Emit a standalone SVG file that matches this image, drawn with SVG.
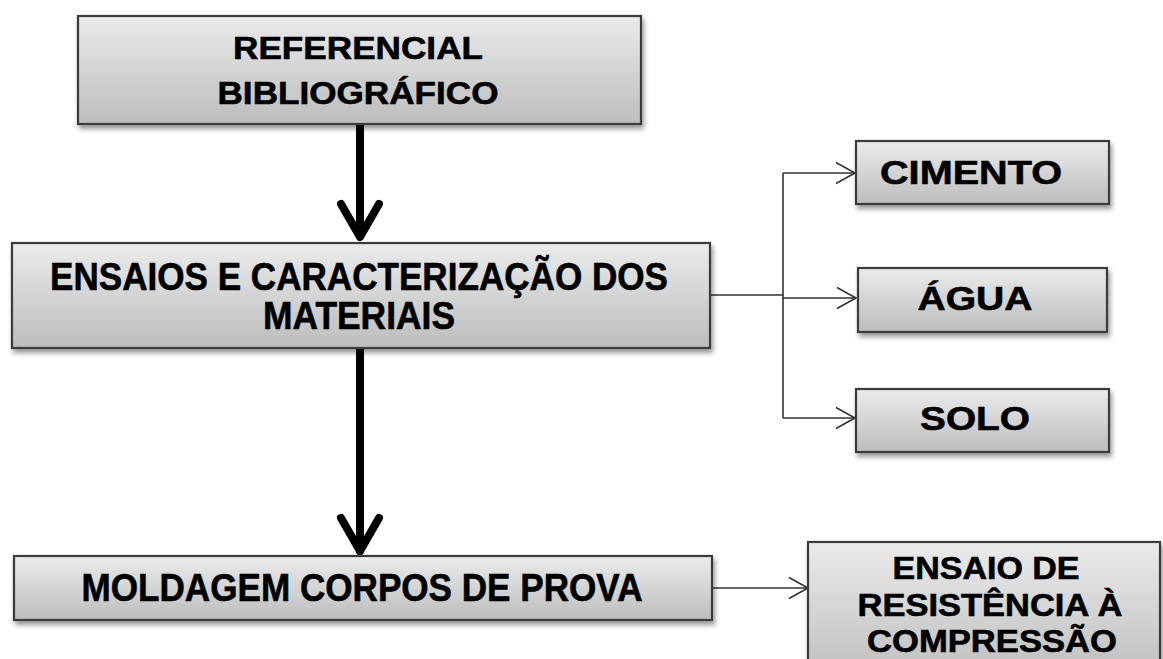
<svg xmlns="http://www.w3.org/2000/svg" width="1163" height="659" viewBox="0 0 1163 659">
<defs>
<linearGradient id="g" x1="0" y1="0" x2="0" y2="1">
<stop offset="0" stop-color="#ebebeb"/>
<stop offset="1" stop-color="#bdbdbd"/>
</linearGradient>
<filter id="sh" x="-10%" y="-10%" width="120%" height="130%">
<feDropShadow dx="2" dy="4" stdDeviation="2.5" flood-color="#000" flood-opacity="0.4"/>
</filter>
<marker id="open" markerWidth="24" markerHeight="24" viewBox="0 0 24 24" refX="22" refY="12" orient="auto" markerUnits="userSpaceOnUse">
<path d="M3,1.5 L22,12 L3,22.5" fill="none" stroke="#333" stroke-width="1.6"/>
</marker>
</defs>
<style>
.box{fill:url(#g);stroke:#3a3a3a;stroke-width:2.2;filter:url(#sh)}
.t{font-family:"Liberation Sans",Arial,sans-serif;font-weight:bold;fill:#000;stroke:#000;stroke-width:0.6;text-anchor:middle}
.thin{fill:none;stroke:#333;stroke-width:1.6}
.thick{fill:none;stroke:#000;stroke-width:8;stroke-linecap:round;stroke-linejoin:round}
</style>
<g id="connectors">
<line class="thick" x1="360" y1="124" x2="360" y2="236" stroke-linecap="butt"/>
<path class="thick" d="M341,204 L360,237 L379,204"/>
<line class="thick" x1="360" y1="348" x2="360" y2="551" stroke-linecap="butt"/>
<path class="thick" d="M341,518 L360,551 L379,518"/>
<path class="thin" d="M710,295 H783"/>
<path class="thin" d="M783,173 V418"/>
<path class="thin" d="M783,173 H855" marker-end="url(#open)"/>
<path class="thin" d="M783,298 H856" marker-end="url(#open)"/>
<path class="thin" d="M783,418 H855" marker-end="url(#open)"/>
<path class="thin" d="M712,588 H808" marker-end="url(#open)"/>
</g>
<g id="referencial">
<rect class="box" x="78" y="16" width="563" height="108"/>
<text class="t" x="358" y="59" font-size="32" textLength="250" lengthAdjust="spacingAndGlyphs">REFERENCIAL</text>
<text class="t" x="358" y="104" font-size="32" textLength="281" lengthAdjust="spacingAndGlyphs">BIBLIOGRÁFICO</text>
</g>
<g id="ensaios">
<rect class="box" x="12" y="243" width="698" height="105"/>
<text class="t" x="359" y="290" font-size="39" textLength="618" lengthAdjust="spacingAndGlyphs">ENSAIOS E CARACTERIZAÇÃO DOS</text>
<text class="t" x="359" y="329" font-size="39" textLength="192" lengthAdjust="spacingAndGlyphs">MATERIAIS</text>
</g>
<g id="cimento">
<rect class="box" x="856" y="141" width="253" height="63"/>
<text class="t" x="971" y="184" font-size="34" textLength="182" lengthAdjust="spacingAndGlyphs">CIMENTO</text>
</g>
<g id="agua">
<rect class="box" x="858" y="268" width="249" height="64"/>
<text class="t" x="975" y="310" font-size="34" textLength="115" lengthAdjust="spacingAndGlyphs">ÁGUA</text>
</g>
<g id="solo">
<rect class="box" x="856" y="389" width="253" height="63"/>
<text class="t" x="975" y="430" font-size="34" textLength="110" lengthAdjust="spacingAndGlyphs">SOLO</text>
</g>
<g id="moldagem">
<rect class="box" x="14" y="556" width="698" height="64"/>
<text class="t" x="362" y="601" font-size="39" textLength="561" lengthAdjust="spacingAndGlyphs">MOLDAGEM CORPOS DE PROVA</text>
</g>
<g id="resistencia">
<rect class="box" x="808" y="542" width="352" height="140"/>
<text class="t" x="986" y="579" font-size="31.5" textLength="187" lengthAdjust="spacingAndGlyphs">ENSAIO DE</text>
<text class="t" x="990" y="615.5" font-size="31.5" textLength="265" lengthAdjust="spacingAndGlyphs">RESISTÊNCIA À</text>
<text class="t" x="992" y="652" font-size="31.5" textLength="250" lengthAdjust="spacingAndGlyphs">COMPRESSÃO</text>
</g>
</svg>
